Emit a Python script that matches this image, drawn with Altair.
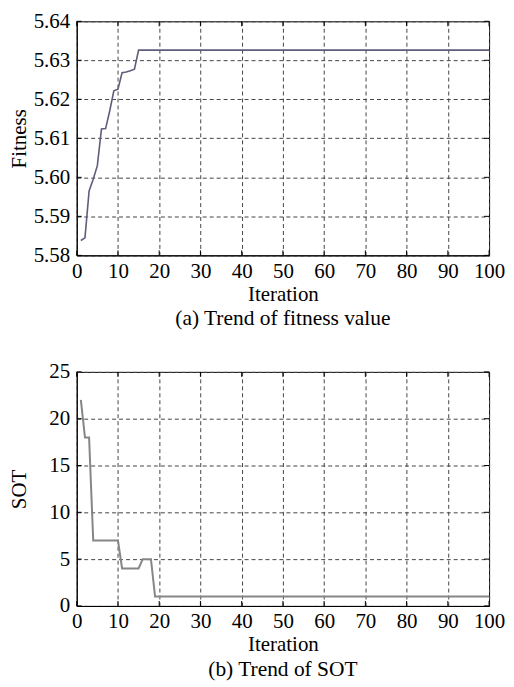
import altair as alt
import pandas as pd

# Fitness trend (iterations 1..100)
fit_iter = list(range(1, 101))
fit_head = [5.5838, 5.5845, 5.5965, 5.5995, 5.6030, 5.6124, 5.6125, 5.6170,
            5.6222, 5.6226, 5.6268, 5.6270, 5.6273, 5.6277]
fit_vals = fit_head + [5.6326] * (100 - len(fit_head))

# SOT trend (iterations 1..100)
sot_iter = list(range(1, 101))
sot_head = [22, 18, 18, 7, 7, 7, 7, 7, 7, 7, 4, 4, 4, 4, 4, 5, 5, 5]
sot_vals = sot_head + [1] * (100 - len(sot_head))

x_ticks = [0, 10, 20, 30, 40, 50, 60, 70, 80, 90, 100]
fit_ticks = [5.58, 5.59, 5.60, 5.61, 5.62, 5.63, 5.64]
sot_ticks = [0, 5, 10, 15, 20, 25]

df_fit = pd.DataFrame({"Iteration": fit_iter, "Fitness": fit_vals})
df_sot = pd.DataFrame({"Iteration": sot_iter, "SOT": sot_vals})
df_xt = pd.DataFrame({"Iteration": x_ticks})
df_fit_yt = pd.DataFrame({"Fitness": fit_ticks})
df_sot_yt = pd.DataFrame({"SOT": sot_ticks})

FONT = "Liberation Serif"
FS = 21
CAP_FS = 21.5
W, H = 414, 235
TK = 5  # inward tick length


def make_panel(df, yfield, ydomain, yticks, yfmt, line_color, line_w,
               df_yt, caption):
    xs = alt.Scale(domain=[0, 100], nice=False, zero=False)
    ys = alt.Scale(domain=ydomain, nice=False, zero=False)
    xax = alt.Axis(values=x_ticks, title="Iteration", format="d",
                   labelPadding=5, titlePadding=2, labelOverlap=False,
                   labelBound=False, labelFlush=False)
    yax = alt.Axis(values=yticks, format=yfmt, title=yfield,
                   titleX=-47, labelPadding=7, labelOverlap=False,
                   labelFlush=False)
    line = alt.Chart(df).mark_line(color=line_color, strokeWidth=line_w).encode(
        x=alt.X("Iteration:Q", scale=xs, axis=xax),
        y=alt.Y(f"{yfield}:Q", scale=ys, axis=yax),
    )
    xb = alt.Chart(df_xt).mark_rule(color="black", strokeWidth=1).encode(
        x=alt.X("Iteration:Q", scale=xs, axis=xax),
        y=alt.value(H), y2=alt.value(H - TK))
    xt = alt.Chart(df_xt).mark_rule(color="black", strokeWidth=1).encode(
        x=alt.X("Iteration:Q", scale=xs, axis=xax),
        y=alt.value(0), y2=alt.value(TK))
    yl = alt.Chart(df_yt).mark_rule(color="black", strokeWidth=1).encode(
        y=alt.Y(f"{yfield}:Q", scale=ys, axis=yax),
        x=alt.value(0), x2=alt.value(TK))
    yr = alt.Chart(df_yt).mark_rule(color="black", strokeWidth=1).encode(
        y=alt.Y(f"{yfield}:Q", scale=ys, axis=yax),
        x=alt.value(W - TK), x2=alt.value(W))
    return alt.layer(line, xb, xt, yl, yr).properties(
        width=W, height=H,
        title=alt.TitleParams(caption, orient="bottom", font=FONT,
                              fontSize=CAP_FS, fontWeight="normal",
                              color="black", offset=4),
    )


top = make_panel(df_fit, "Fitness", [5.58, 5.64], fit_ticks, ".2f",
                 "#5e5e7c", 1.6, df_fit_yt, "(a) Trend of fitness value")
bottom = make_panel(df_sot, "SOT", [0, 25], sot_ticks, "d",
                    "#868686", 2, df_sot_yt, "(b) Trend of SOT")

chart = alt.vconcat(top, bottom, spacing=30).properties(
    padding={"left": 0, "top": 0, "right": 0, "bottom": 0}
).configure_view(
    stroke="black", strokeWidth=1
).configure_axis(
    grid=True, gridDash=[4, 3], gridColor="#444444", gridWidth=1,
    domainColor="black", domainWidth=1, ticks=False,
    labelFont=FONT, titleFont=FONT, labelFontSize=FS, titleFontSize=FS,
    labelColor="black", titleColor="black", titleFontWeight="normal",
)

chart.save("out.html", embed_options={"renderer": "svg", "actions": False})
